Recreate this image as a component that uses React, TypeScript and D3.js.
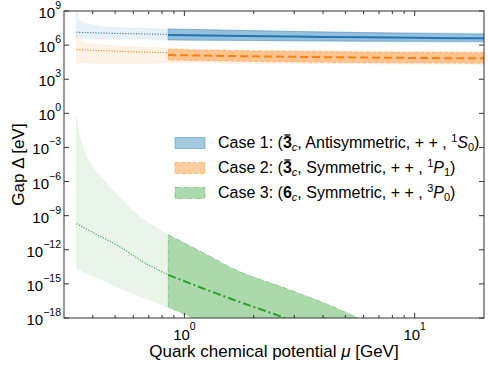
import * as d3 from "d3";
import React from "react";

const W = 488;
const H = 366;
const plot = { left: 64, right: 484, top: 11, bottom: 318 };
const FONT = "'Liberation Sans', Arial, Helvetica, sans-serif";

// values are log10 of the gap in eV, mu in GeV
// case 1 (blue)
const c1LightMu = [0.34, 0.343, 0.35, 0.37, 0.4, 0.5, 0.65, 0.85, 1.5, 3, 6, 12, 20];
const c1LightHi = [9.3, 8.65, 8.21, 7.94, 7.77, 7.55, 7.48, 7.42, 7.34, 7.24, 7.15, 7.1, 7.07];
const c1LightLo = [6.6, 6.6, 6.59, 6.58, 6.57, 6.55, 6.53, 6.45, 6.4, 6.34, 6.28, 6.24, 6.21];
const c1DotMu = [0.34, 0.5, 0.85];
const c1Dot = [7.13, 7.03, 6.95];
const c1Mu = [0.85, 1.5, 3, 6, 12, 20];
const c1Hi = [7.42, 7.32, 7.2, 7.1, 7.02, 6.98];
const c1Lo = [6.45, 6.42, 6.38, 6.35, 6.33, 6.32];
const c1Mid = [6.89, 6.82, 6.75, 6.69, 6.63, 6.6];

// case 2 (orange)
const c2LightMu = [0.34, 0.343, 0.35, 0.37, 0.4, 0.5, 0.65, 0.85, 1.5, 3, 6, 12, 20];
const c2LightHi = [7.07, 6.75, 6.45, 6.2, 6.1, 5.95, 5.83, 5.75, 5.6, 5.52, 5.47, 5.44, 5.42];
const c2LightLo = [4.43, 4.43, 4.42, 4.42, 4.41, 4.39, 4.37, 4.45, 4.4, 4.36, 4.33, 4.31, 4.3];
const c2DotMu = [0.34, 0.5, 0.85];
const c2Dot = [5.6, 5.47, 5.33];
const c2Mu = [0.85, 1.5, 3, 6, 12, 20];
const c2Hi = [5.63, 5.52, 5.45, 5.39, 5.35, 5.33];
const c2Lo = [4.69, 4.6, 4.52, 4.46, 4.42, 4.4];
const c2Mid = [5.13, 5.05, 4.97, 4.91, 4.86, 4.84];

// case 3 (green)
const c3LightMu = [0.34, 0.346, 0.358, 0.3765, 0.402, 0.4446, 0.508, 0.59, 0.851];
const c3LightHi = [-0.24, -1.41, -2.59, -3.77, -4.79, -5.82, -7.15, -8.47, -10.68];
const c3LightLo = [-13.65, -13.71, -13.85, -14.05, -14.31, -14.71, -15.25, -15.8, -17.06];
const c3DotMu = [0.34, 0.42, 0.525, 0.66, 0.851];
const c3Dot = [-9.71, -10.7, -11.74, -13.05, -14.21];
const c3Mu = [0.851, 1.2, 1.743, 2.6, 2.874, 4.42, 5.61, 8];
const c3Hi = [-10.68, -12.24, -13.94, -15.21, -15.53, -17.0, -17.95, -19.4];
const c3Lo = [-17.06, -18.35, -19.74, -21.2, -21.6, -23.2, -24.1, -25.5];
const c3Mid = [-14.21, -15.38, -16.6, -17.85, -18.2, -19.6, -20.4, -21.7];

const xMajor = [1, 10];
const xMinor = [0.4, 0.5, 0.6, 0.7, 0.8, 0.9, 2, 3, 4, 5, 6, 7, 8, 9];
const yMajor = [-18, -15, -12, -9, -6, -3, 0, 3, 6, 9];

const blue = "31,119,180";
const orange = "255,127,14";
const green = "44,160,44";

const x = d3.scaleLog().domain([0.3, 20]).range([plot.left, plot.right]);
const y = d3.scaleLog().domain([1e-18, 1e9]).range([plot.bottom, plot.top]);

const band = (mu: number[], lo: number[], hi: number[]) =>
  d3
    .area<number>()
    .x((d) => x(d))
    .y0((_, i) => y(10 ** lo[i]))
    .y1((_, i) => y(10 ** hi[i]))
    .curve(d3.curveMonotoneX)(mu) as string;

const line = (mu: number[], v: number[]) =>
  d3
    .line<number>()
    .x((d) => x(d))
    .y((_, i) => y(10 ** v[i]))
    .curve(d3.curveMonotoneX)(mu) as string;

const sup = (e: number) => (e < 0 ? "\u2212" + Math.abs(e) : String(e));

const legend = [
  { c: blue, dash: "none", num: "1", rep: "3", bar: true, sym: "Antisymmetric", s: "1", L: "S", j: "0" },
  { c: orange, dash: "4,2", num: "2", rep: "3", bar: true, sym: "Symmetric", s: "1", L: "P", j: "1" },
  { c: green, dash: "5,1.5,1,1.5", num: "3", rep: "6", bar: false, sym: "Symmetric", s: "3", L: "P", j: "0" },
];

const ink = "#333";
const lgFont = 16;
const lgX = 218;
// approx advance of "Case n: (" in Arial units (em)
const prefixEm = 4.057;

export default function App() {
  return (
    <svg
      width={W}
      height={H}
      style={{ position: "absolute", left: 0, top: 0, background: "#fff" }}
      fontFamily={FONT}
    >
      <defs>
        <clipPath id="plotclip">
          <rect x={plot.left} y={plot.top} width={plot.right - plot.left} height={plot.bottom - plot.top} />
        </clipPath>
      </defs>

      <g clipPath="url(#plotclip)">
        {/* light (extrapolated) bands */}
        <path d={band(c1LightMu, c1LightLo, c1LightHi)} fill={`rgba(${blue},0.1)`} stroke={`rgba(${blue},0.12)`} strokeDasharray="1,1.6" />
        <path d={band(c2LightMu, c2LightLo, c2LightHi)} fill={`rgba(${orange},0.1)`} stroke={`rgba(${orange},0.12)`} strokeDasharray="1,1.6" />
        <path d={band(c3LightMu, c3LightLo, c3LightHi)} fill={`rgba(${green},0.1)`} stroke={`rgba(${green},0.12)`} strokeDasharray="1,1.6" />

        {/* dark bands */}
        <path d={band(c1Mu, c1Lo, c1Hi)} fill={`rgba(${blue},0.4)`} stroke={`rgba(${blue},0.4)`} />
        <path d={band(c2Mu, c2Lo, c2Hi)} fill={`rgba(${orange},0.4)`} stroke={`rgba(${orange},0.4)`} strokeDasharray="4,2" />
        <path d={band(c3Mu, c3Lo, c3Hi)} fill={`rgba(${green},0.4)`} stroke={`rgba(${green},0.4)`} strokeDasharray="5,1.5,1,1.5" />

        {/* dotted extrapolations */}
        <path d={line(c1DotMu, c1Dot)} fill="none" stroke={`rgb(${blue})`} strokeWidth={1.1} strokeDasharray="1.1,1.6" />
        <path d={line(c2DotMu, c2Dot)} fill="none" stroke={`rgb(${orange})`} strokeWidth={1.1} strokeDasharray="1.1,1.6" />
        <path d={line(c3DotMu, c3Dot)} fill="none" stroke={`rgb(${green})`} strokeWidth={1.1} strokeDasharray="1.1,1.6" />

        {/* central lines */}
        <path d={line(c1Mu, c1Mid)} fill="none" stroke={`rgb(${blue})`} strokeWidth={2} />
        <path d={line(c2Mu, c2Mid)} fill="none" stroke={`rgb(${orange})`} strokeWidth={2} strokeDasharray="8,4" />
        <path d={line(c3Mu, c3Mid)} fill="none" stroke={`rgb(${green})`} strokeWidth={2} strokeDasharray="8,3,2,3" />
      </g>

      {/* frame */}
      <rect
        x={plot.left}
        y={plot.top}
        width={plot.right - plot.left}
        height={plot.bottom - plot.top}
        fill="none"
        stroke={ink}
        strokeWidth={1}
      />

      {/* x ticks */}
      {xMajor.map((t) => (
        <g key={"xm" + t}>
          <line x1={x(t)} x2={x(t)} y1={plot.bottom} y2={plot.bottom - 5} stroke={ink} />
          <line x1={x(t)} x2={x(t)} y1={plot.top} y2={plot.top + 5} stroke={ink} />
          <text x={x(t)} y={plot.bottom + 22} fontSize={15} textAnchor="middle">
            <tspan>10</tspan>
            <tspan dy={-10} fontSize={10.5}>
              {sup(Math.log10(t))}
            </tspan>
          </text>
        </g>
      ))}
      {xMinor.map((t) => (
        <g key={"xn" + t}>
          <line x1={x(t)} x2={x(t)} y1={plot.bottom} y2={plot.bottom - 3} stroke={ink} />
          <line x1={x(t)} x2={x(t)} y1={plot.top} y2={plot.top + 3} stroke={ink} />
        </g>
      ))}

      {/* y ticks */}
      {yMajor.map((e) => (
        <g key={"y" + e}>
          <line x1={plot.left} x2={plot.left + 5} y1={y(10 ** e)} y2={y(10 ** e)} stroke={ink} />
          <line x1={plot.right} x2={plot.right - 5} y1={y(10 ** e)} y2={y(10 ** e)} stroke={ink} />
          <text x={61} y={y(10 ** e) + 7} fontSize={15} textAnchor="end">
            <tspan>10</tspan>
            <tspan dy={-9} fontSize={10.5}>
              {sup(e)}
            </tspan>
          </text>
        </g>
      ))}

      {/* axis labels */}
      <text x={(plot.left + plot.right) / 2} y={357} fontSize={17} textAnchor="middle">
        {"Quark chemical potential "}
        <tspan fontStyle="italic">{"\u03bc"}</tspan>
        {" [GeV]"}
      </text>
      <text
        transform={`translate(24,${(plot.top + plot.bottom) / 2}) rotate(-90)`}
        fontSize={17}
        textAnchor="middle"
      >
        {"Gap \u0394 [eV]"}
      </text>

      {/* legend */}
      {legend.map((l, i) => {
        const cy = 143 + i * 25;
        const bx = lgX + prefixEm * lgFont;
        return (
          <g key={"lg" + i}>
            <rect
              x={175}
              y={cy - 5.5}
              width={30}
              height={11}
              fill={`rgba(${l.c},0.4)`}
              stroke={`rgba(${l.c},0.4)`}
              strokeDasharray={l.dash}
            />
            <text x={lgX} y={cy + 5} fontSize={lgFont}>
              {`Case ${l.num}: (`}
              <tspan fontWeight="bold">{l.rep}</tspan>
              <tspan dy={3} fontSize={11} fontStyle="italic">
                c
              </tspan>
              <tspan dy={-3}>{`, ${l.sym}, + + , `}</tspan>
              <tspan dy={-6} fontSize={11}>
                {l.s}
              </tspan>
              <tspan dy={6} fontStyle="italic">
                {l.L}
              </tspan>
              <tspan dy={3} fontSize={11}>
                {l.j}
              </tspan>
              <tspan dy={-3}>)</tspan>
            </text>
            {l.bar && (
              <line x1={bx + 1.5} x2={bx + 7.5} y1={cy - 8} y2={cy - 8} stroke="#000" strokeWidth={1.3} />
            )}
          </g>
        );
      })}
    </svg>
  );
}
